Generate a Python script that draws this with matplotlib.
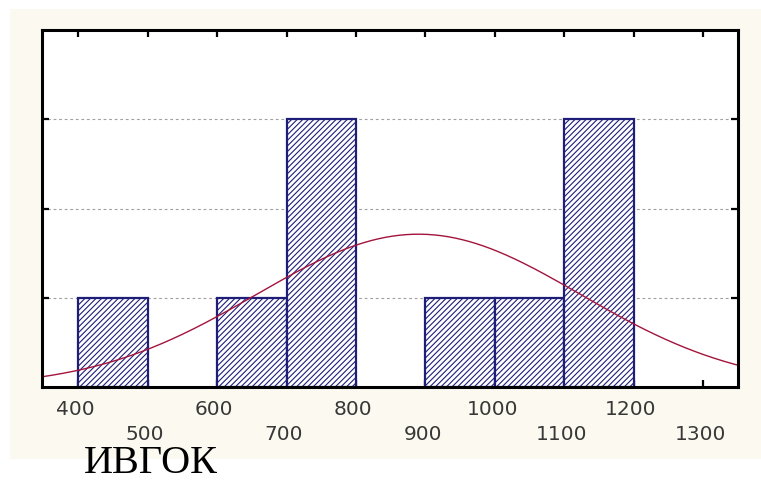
import numpy as np
import matplotlib
matplotlib.use("Agg")
import matplotlib.pyplot as plt
from matplotlib.patches import Rectangle
import matplotlib.transforms as mtransforms

# ---- data ----
bin_left = [400, 600, 700, 900, 1000, 1100]
bin_counts = [1, 1, 3, 1, 1, 3]
bin_width = 100
fit_mean = 890
fit_sd = 233
x_ticks = [400, 500, 600, 700, 800, 900, 1000, 1100, 1200, 1300]
x_tick_labels = ["400", "500", "600", "700", "800", "900", "1000", "1100", "1200", "1300"]
caption = "ИВГОК"

W, H = 761, 481
fig = plt.figure(figsize=(W / 100, H / 100), dpi=100, facecolor="white")

# cream background of the pasted chart image
bg = Rectangle((10 / W, 21 / H), (W - 10) / W, 450 / H,
               transform=fig.transFigure, facecolor="#fcfaf0",
               edgecolor="none", zorder=-10)
fig.add_artist(bg)

ax = fig.add_axes([42 / W, 1 - 388 / H, (738 - 42) / W, (388 - 31) / H])
ax.set_zorder(5)
ax.set_facecolor("white")
ax.set_xlim(348, 1350)
ax.set_ylim(0, 4)

# grid
for yv in [1, 2, 3]:
    ax.axhline(yv, color="#a0a0a0", lw=0.8, ls=(0, (2.5, 2.5)), zorder=1)

navy = "#1e1e78"
plt.rcParams["hatch.color"] = navy
plt.rcParams["hatch.linewidth"] = 0.8
ax.bar(bin_left, bin_counts, width=bin_width, align="edge", facecolor="white",
       edgecolor=navy, linewidth=1.6, hatch="//////", zorder=2)

# fitted normal curve
xs = np.linspace(348, 1350, 400)
n_total = sum(bin_counts)
ys = n_total * bin_width / (fit_sd * np.sqrt(2 * np.pi)) * np.exp(-0.5 * ((xs - fit_mean) / fit_sd) ** 2)
ax.plot(xs, ys, color="#a3143c", lw=1.0, zorder=3)

# spines & ticks
for s in ax.spines.values():
    s.set_linewidth(2.2)
    s.set_color("black")
    s.set_zorder(5)
ax.set_xticks(x_ticks)
ax.set_xticklabels([])
ax.set_yticks([1, 2, 3])
ax.set_yticklabels([])
ax.tick_params(axis="both", direction="in", length=5, width=1.6, color="black",
               top=True, right=True, bottom=True, left=True)

trans = mtransforms.blended_transform_factory(ax.transData, ax.transAxes)
for i, (xv, lab) in enumerate(zip(x_ticks, x_tick_labels)):
    yrow = -0.059 if i % 2 == 0 else -0.129
    ax.text(xv - 4, yrow, lab, transform=trans, ha="center", va="center",
            fontsize=14.5, color="#383838", family="DejaVu Sans", clip_on=False)

fig.text(84 / W, (H - 473) / H, caption, family="Liberation Serif",
         fontsize=29, color="black", ha="left", va="baseline", zorder=10)

fig.savefig("out.png", dpi=100, facecolor="white")
